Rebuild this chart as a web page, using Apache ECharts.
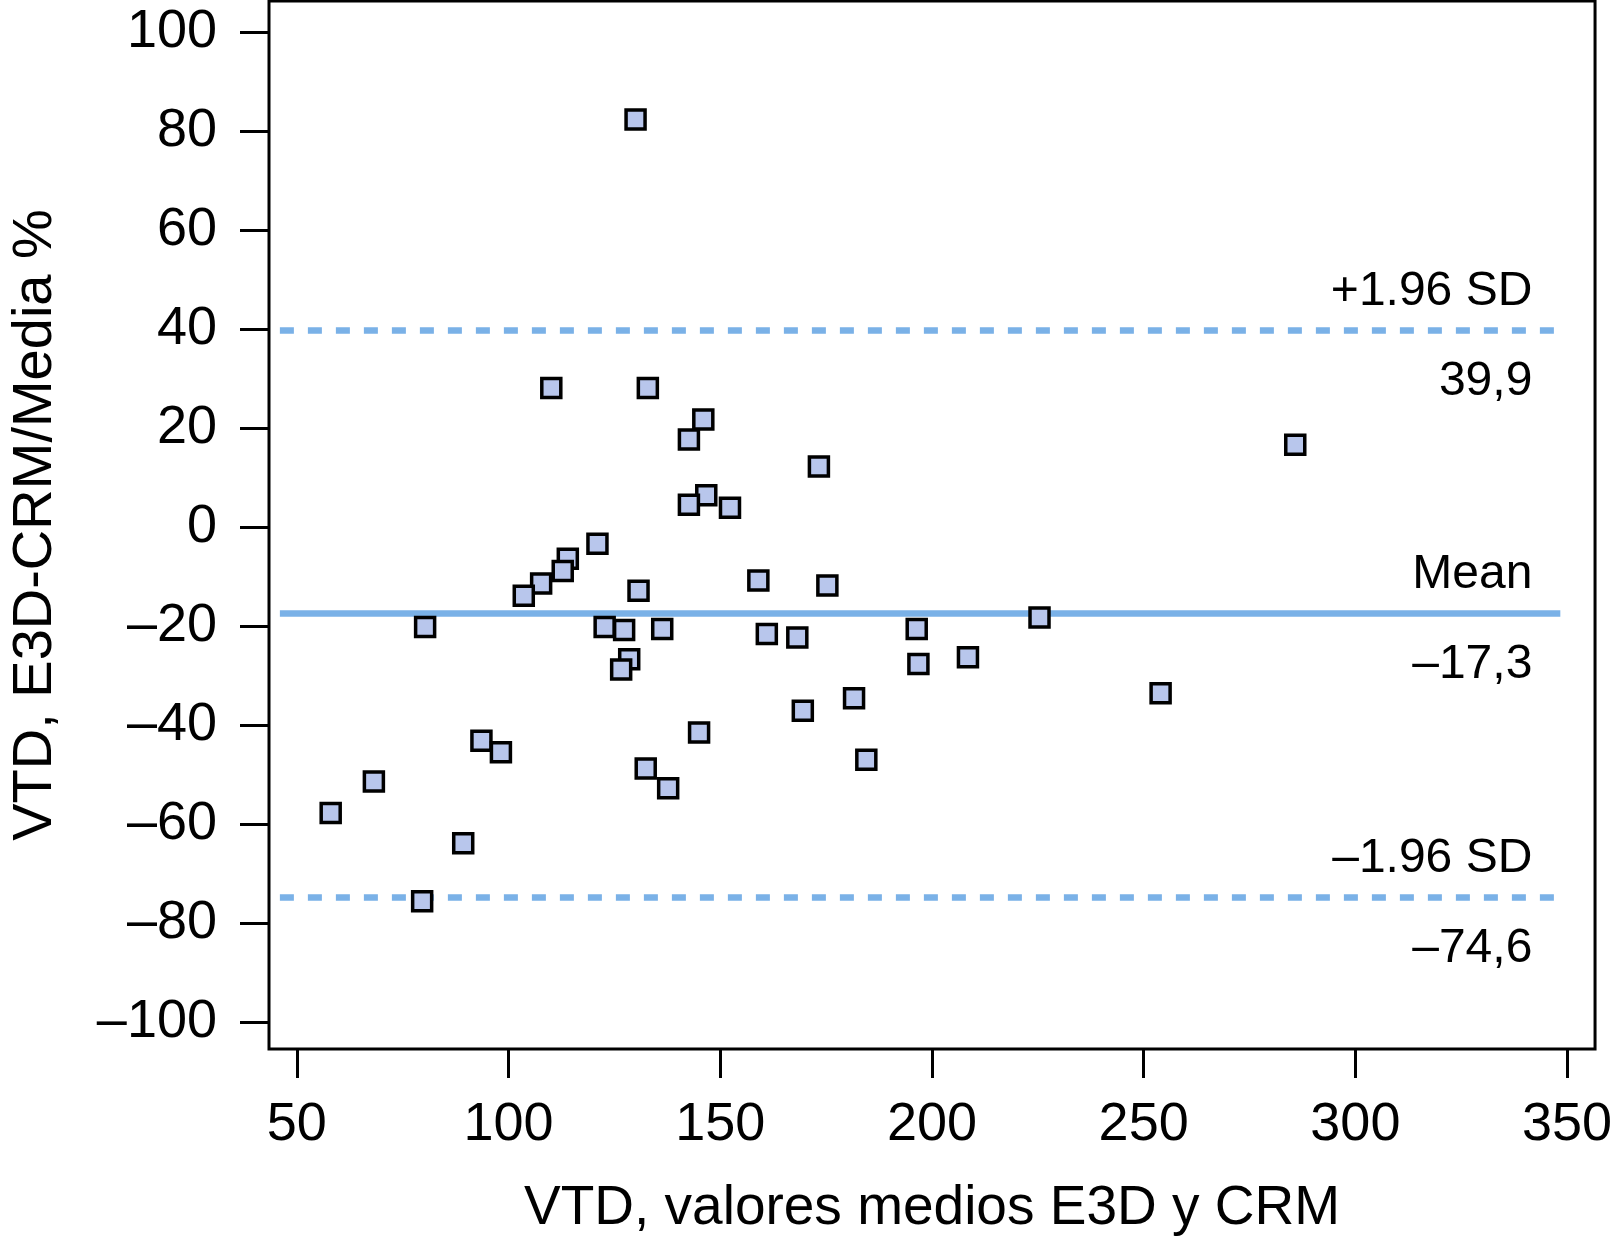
<!DOCTYPE html>
<html>
<head>
<meta charset="utf-8">
<script src="https://cdn.jsdelivr.net/npm/echarts@6/dist/echarts.min.js"></script>
<style>html,body{margin:0;padding:0;background:#fff}#c{width:1615px;height:1241px}</style>
</head>
<body>
<div id="c"></div>
<script>
// Bland-Altman data: mean of E3D and CRM (x), difference/mean % (y)
const meanVTD = [130.0,110.1,132.9,146.0,142.6,285.8,173.3,146.7,142.6,152.3,121.0,114.0,112.8,107.7,103.6,130.7,159.0,175.3,225.4,80.3,122.7,127.3,136.3,196.4,161.0,168.2,128.5,126.6,196.8,208.5,254.0,181.6,169.5,145.0,93.6,98.2,184.5,132.4,68.2,137.7,58.0,89.3,79.6];
const diffPct = [82.4,28.2,28.2,21.8,17.8,16.7,12.3,6.5,4.6,4.0,-3.3,-6.3,-8.8,-11.3,-13.8,-12.8,-10.7,-11.7,-18.2,-20.1,-20.1,-20.7,-20.5,-20.5,-21.5,-22.2,-26.6,-28.7,-27.6,-26.2,-33.5,-34.5,-37.0,-41.4,-43.1,-45.4,-46.9,-48.7,-51.3,-52.7,-57.7,-63.8,-75.5];
const xTicks = [50,100,150,200,250,300,350];
const yTicks = [-100,-80,-60,-40,-20,0,20,40,60,80,100];
const meanDiff = -17.3;
const upperLoA = 39.9;
const lowerLoA = -74.6;
const refLabels = {upper:['+1.96 SD','39,9'], mean:['Mean','\u201317,3'], lower:['\u20131.96 SD','\u201374,6']};
const lineXRange = [46, 348.4];

const FONT = 'Liberation Sans, Arial, Helvetica, sans-serif';
const BLUE = '#7AB1E7';
const fmtNeg = v => String(v).replace('-', '\u2013');

function refLine(y, labels, dashed) {
  const ls = {color: BLUE, width: 6.5, type: dashed ? [14, 14] : 'solid', cap: 'butt'};
  const lbl = {fontFamily: FONT, fontSize: 48, color: '#000'};
  return [
    [{coord:[lineXRange[0], y], lineStyle: ls,
      label:Object.assign({show:true, position:'insideEndTop', formatter: labels[0], distance:[28, 14]}, lbl)},
     {coord:[lineXRange[1], y]}],
    [{coord:[lineXRange[0], y], lineStyle: {color: 'rgba(0,0,0,0)', width: 0.1},
      label:Object.assign({show:true, position:'insideEndBottom', formatter: labels[1], distance:[28, 28]}, lbl)},
     {coord:[lineXRange[1], y]}]
  ];
}

const chart = echarts.init(document.getElementById('c'), null, {renderer:'canvas'});
chart.setOption({
  animation: false,
  backgroundColor: '#fff',
  grid: {left: 262, top: 1, width: 1335, height: 1048, show: true, borderColor: '#000', borderWidth: 3, backgroundColor: 'transparent'},
  xAxis: {
    type: 'value', min: 43.43, max: 356.6,
    name: 'VTD, valores medios E3D y CRM', nameLocation: 'middle', nameGap: 132,
    nameTextStyle: {fontFamily: FONT, fontSize: 55, color: '#000'},
    axisLine: {show: false, onZero: false},
    axisTick: {show: true, inside: false, length: 29, lineStyle: {color: '#000', width: 3}, customValues: xTicks},
    axisLabel: {show: true, margin: 49, fontFamily: FONT, fontSize: 54, color: '#000', customValues: xTicks, formatter: fmtNeg},
    splitLine: {show: false}
  },
  yAxis: {
    type: 'value', min: -105.35, max: 106.36,
    name: 'VTD, E3D-CRM/Media %', nameLocation: 'middle', nameGap: 205, nameRotate: 90,
    nameTextStyle: {fontFamily: FONT, fontSize: 56, color: '#000'},
    axisLine: {show: false, onZero: false},
    axisTick: {show: true, inside: false, length: 29, lineStyle: {color: '#000', width: 3}, customValues: yTicks},
    axisLabel: {show: true, margin: 52, fontFamily: FONT, fontSize: 54, color: '#000', customValues: yTicks, formatter: fmtNeg},
    splitLine: {show: false}
  },
  series: [{
    type: 'scatter',
    data: meanVTD.map((x, i) => [x, diffPct[i]]),
    symbol: 'rect', symbolSize: 19,
    itemStyle: {color: '#B8C6EC', borderColor: '#000', borderWidth: 3.5, opacity: 1},
    z: 5,
    markLine: {
      silent: true, symbol: ['none','none'], animation: false, z: 3,
      data: [].concat(refLine(upperLoA, refLabels.upper, true), refLine(meanDiff, refLabels.mean, false), refLine(lowerLoA, refLabels.lower, true))
    }
  }]
});
</script>
</body>
</html>
